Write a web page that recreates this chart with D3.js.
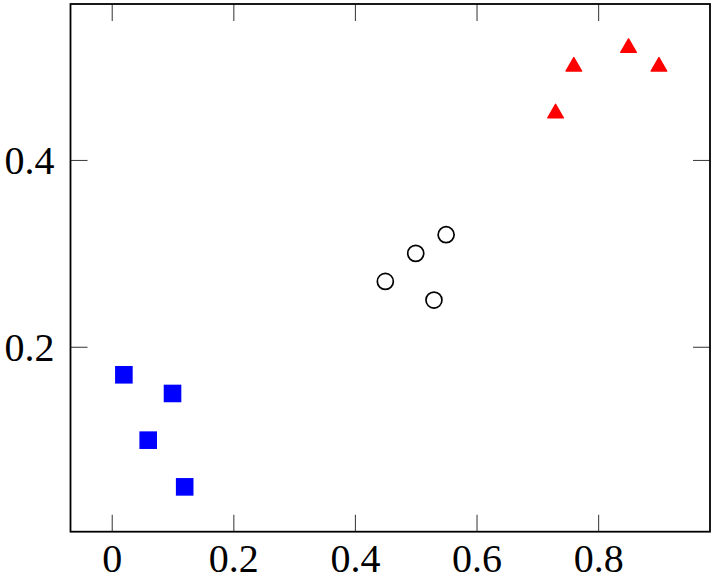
<!DOCTYPE html>
<html>
<head>
<meta charset="utf-8">
<script src="https://cdn.jsdelivr.net/npm/d3@7"></script>
<style>
  html, body { margin: 0; padding: 0; background: #fff; }
  svg { display: block; }
  .tick text { font-family: "Liberation Serif", "DejaVu Serif", serif; }
</style>
</head>
<body>
<svg id="chart" width="716" height="578"></svg>
<script>
// ---- data ----
const squaresX = [0.02, 0.06, 0.10, 0.12];
const squaresY = [0.17, 0.10, 0.15, 0.05];
const circlesX = [0.45, 0.50, 0.53, 0.55];
const circlesY = [0.27, 0.30, 0.25, 0.32];
const trianglesX = [0.73, 0.76, 0.85, 0.90];
const trianglesY = [0.45, 0.50, 0.52, 0.50];
const xTicks = [0, 0.2, 0.4, 0.6, 0.8];
const xTickLabels = ["0", "0.2", "0.4", "0.6", "0.8"];
const yTicks = [0.2, 0.4];
const yTickLabels = ["0.2", "0.4"];
const xDomain = [-0.0678, 0.984];
const yDomain = [0.002, 0.567];

// ---- layout ----
const plotLeft = 70.5, plotRight = 710, plotTop = 4, plotBottom = 531.7;
const svg = d3.select("#chart");
const x = d3.scaleLinear().domain(xDomain).range([plotLeft, plotRight]);
const y = d3.scaleLinear().domain(yDomain).range([plotBottom, plotTop]);
const tickLen = 17;
const fontSize = 40;

function styleAxis(g, withText) {
  g.select(".domain").remove();
  g.selectAll(".tick line").attr("stroke", "#444").attr("stroke-width", 1.1);
  if (withText) {
    g.selectAll(".tick text")
      .attr("fill", "#000")
      .style("font-size", fontSize + "px");
  } else {
    g.selectAll(".tick text").remove();
  }
}

// bottom axis
const gx = svg.append("g").attr("transform", `translate(0,${plotBottom})`)
  .call(d3.axisBottom(x).tickValues(xTicks)
    .tickFormat((d, i) => xTickLabels[i])
    .tickSizeInner(-tickLen).tickSizeOuter(0).tickPadding(12));
styleAxis(gx, true);
gx.selectAll(".tick text").attr("dy", "0.71em");

// top axis
const gxt = svg.append("g").attr("transform", `translate(0,${plotTop})`)
  .call(d3.axisTop(x).tickValues(xTicks).tickSizeInner(-tickLen).tickSizeOuter(0));
styleAxis(gxt, false);

// left axis
const gy = svg.append("g").attr("transform", `translate(${plotLeft},0)`)
  .call(d3.axisLeft(y).tickValues(yTicks)
    .tickFormat((d, i) => yTickLabels[i])
    .tickSizeInner(-tickLen).tickSizeOuter(0).tickPadding(16));
styleAxis(gy, true);
gy.selectAll(".tick text").attr("dy", "0.34em");

// right axis
const gyr = svg.append("g").attr("transform", `translate(${plotRight},0)`)
  .call(d3.axisRight(y).tickValues(yTicks).tickSizeInner(-tickLen).tickSizeOuter(0));
styleAxis(gyr, false);

// frame
svg.append("rect")
  .attr("x", plotLeft).attr("y", plotTop)
  .attr("width", plotRight - plotLeft).attr("height", plotBottom - plotTop)
  .attr("fill", "none").attr("stroke", "#000").attr("stroke-width", 1.8);

// ---- marks ----
const zip = (xs, ys) => xs.map((v, i) => ({ x: v, y: ys[i] }));

// blue squares
const sq = 16;
svg.append("g").selectAll("rect")
  .data(zip(squaresX, squaresY)).join("rect")
  .attr("x", d => x(d.x) - sq / 2)
  .attr("y", d => y(d.y) - sq / 2)
  .attr("width", sq).attr("height", sq)
  .attr("fill", "#0000ff").attr("stroke", "#0000ff").attr("stroke-width", 1.6);

// open circles
svg.append("g").selectAll("circle")
  .data(zip(circlesX, circlesY)).join("circle")
  .attr("cx", d => x(d.x)).attr("cy", d => y(d.y))
  .attr("r", 8)
  .attr("fill", "none").attr("stroke", "#000").attr("stroke-width", 1.7);

// red triangles
const triR = 9;
const triangle = {
  draw(ctx) {
    const r = triR;
    ctx.moveTo(0, -r);
    ctx.lineTo(r * Math.sqrt(3) / 2, r / 2);
    ctx.lineTo(-r * Math.sqrt(3) / 2, r / 2);
    ctx.closePath();
  }
};
svg.append("g").selectAll("path")
  .data(zip(trianglesX, trianglesY)).join("path")
  .attr("transform", d => `translate(${x(d.x)},${y(d.y)})`)
  .attr("d", d3.symbol().type(triangle)())
  .attr("fill", "#ff0000").attr("stroke", "#ff0000")
  .attr("stroke-width", 1.4).attr("stroke-linejoin", "round");
</script>
</body>
</html>
